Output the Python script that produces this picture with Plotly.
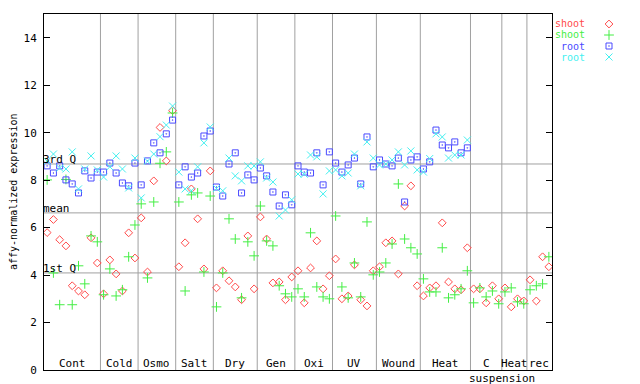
import plotly.graph_objects as go

# ---- data -------------------------------------------------------------
groups = ["Cont", "Cold", "Osmo", "Salt", "Dry", "Gen", "Oxi", "UV",
          "Wound", "Heat", "C", "Heat", "rec"]
group_sizes = [9, 6, 6, 6, 7, 6, 6, 7, 7, 8, 5, 4, 4]
sub_label = "suspension"

series_names = ["shoot", "shoot", "root", "root"]

shoot_a = [5.79, 6.34, 5.49, 5.23, 3.55, 3.33, 3.17, 5.57, 4.51,
           3.21, 4.64, 4.05, 3.33, 5.78, 4.72,
           6.41, 4.13, 7.97, 10.22, 8.81, 10.93,
           4.35, 5.36, 7.63, 6.37, 4.26, 8.39,
           3.46, 4.18, 3.76, 3.50, 2.96, 5.65, 3.42,
           6.45, 5.52, 3.67, 3.71, 2.96, 3.92,
           4.18, 2.83, 4.30, 5.44, 3.42, 3.97,
           4.68, 3.00, 3.12, 4.43, 2.96, 2.70, 4.18,
           4.35, 5.36, 5.44, 4.05, 6.91, 7.76, 3.55,
           3.12, 3.46, 3.55, 6.20, 3.71, 3.42, 3.38, 5.15,
           3.42, 3.42, 2.83, 3.55, 3.00,
           3.46, 2.66, 3.00, 2.91,
           3.80, 2.91, 4.77, 4.35]

shoot_b = [8.01, 4.09, 2.75, 8.03, 2.75, 4.39, 3.63, 5.65, 5.40,
           3.17, 4.26, 3.12, 3.38, 4.77, 6.11,
           7.00, 3.88, 7.08, 8.71, 9.19, 10.83,
           7.08, 3.33, 7.38, 7.46, 4.13, 7.33,
           2.66, 4.09, 6.37, 5.52, 3.04, 5.40, 4.81,
           6.91, 5.44, 5.23, 3.55, 3.21, 3.08,
           3.42, 3.08, 5.78, 3.50, 3.08, 3.00,
           6.49, 3.50, 3.04, 4.51, 3.08, 6.24, 4.01,
           4.13, 4.51, 5.31, 7.84, 5.52, 5.15, 4.89,
           3.84, 3.29, 3.29, 5.15, 3.04, 3.17, 3.42, 4.18,
           2.83, 3.46, 3.08, 3.33, 2.79,
           3.29, 3.46, 2.87, 2.79,
           3.38, 3.55, 3.63, 4.77]

root_a = [8.60, 8.30, 8.60, 8.01, 7.84, 7.46, 8.39, 8.09, 8.34,
          8.34, 8.72, 8.30, 7.88, 7.76, 8.72,
          7.80, 8.81, 9.57, 9.15, 9.95, 10.53,
          7.80, 8.56, 8.13, 8.30, 9.86, 10.07,
          7.71, 7.33, 8.68, 9.15, 7.46, 8.22, 8.01,
          8.51, 8.18, 7.50, 6.91, 7.38, 6.96,
          8.60, 8.34, 8.30, 9.15, 7.80, 9.19,
          8.72, 8.34, 8.64, 8.93, 7.84, 9.82, 8.56,
          8.85, 8.68, 8.60, 8.93, 7.08, 8.85, 8.98,
          8.47, 8.77, 10.11, 9.48, 9.36, 9.61, 9.15, 9.36]

root_b = [8.80, 9.10, 8.51, 8.47, 9.19, 7.63, 8.47, 9.02, 8.43,
          8.13, 8.56, 9.02, 8.47, 7.67, 8.93,
          7.25, 8.80, 9.10, 9.83, 10.32, 11.12,
          8.34, 7.63, 7.55, 8.56, 9.57, 10.24,
          7.65, 7.55, 8.93, 8.18, 7.97, 8.60, 8.60,
          8.77, 8.09, 7.92, 6.49, 6.74, 7.17,
          8.26, 8.25, 9.06, 8.98, 7.42, 8.39,
          8.43, 8.18, 8.30, 9.10, 7.76, 9.61, 8.93,
          8.64, 8.68, 8.85, 9.19, 8.64, 9.23, 8.43,
          8.34, 8.91, 9.95, 9.82, 8.93, 9.06, 9.06, 9.69]

ref_lines = [("3rd Q", 8.68), ("mean", 6.62), ("1st Q", 4.09)]
y_ticks = [0, 2, 4, 6, 8, 10, 12, 14]

# ---- styling -----------------------------------------------------------
FONT = "DejaVu Sans Mono"
colors = ["#ff4a4a", "#44ee44", "#4a4aff", "#44f0f0"]
symbols = ["diamond-open", "cross-thin", "square-open-dot", "x-thin"]
sizes = [6, 7, 6, 7]

# page body has an 8px margin: figure sized to fit the 640x384 window
OFF = 8
W, H = 640 - OFF, 384 - OFF
L, R, T, B = 36, 2, 6, 14
plot_w_px = 508
paper_w = W - L - R
plot_h = H - T - B
x_dom_end = plot_w_px / paper_w

n = sum(group_sizes)
fig = go.Figure()

all_series = [shoot_a, shoot_b, root_a, root_b]
for vals, name, col, sym, sz in zip(all_series, series_names, colors, symbols, sizes):
    xs = list(range(1, len(vals) + 1))
    fig.add_trace(go.Scatter(
        x=xs, y=vals, mode="markers", name=name, showlegend=False,
        marker=dict(symbol=sym, size=sz, color=col,
                    line=dict(color=col, width=1)),
        xaxis="x", yaxis="y"))

shapes = []
annotations = []
pos = 0
for g, s in zip(groups, group_sizes):
    center = pos + (s + 1) / 2
    annotations.append(dict(x=center, y=0, xref="x", yref="y", text=g,
                            showarrow=False, yanchor="bottom", xanchor="center",
                            yshift=-1, borderpad=0,
                            font=dict(family=FONT, size=11, color="black")))
    pos += s
    if pos < n:
        shapes.append(dict(type="line", xref="x", yref="paper", x0=pos + 0.5, x1=pos + 0.5,
                           y0=0, y1=1, line=dict(color="#a0a0a0", width=1), layer="below"))

cs_start = sum(group_sizes[:10])
annotations.append(dict(x=cs_start + group_sizes[10] + 0.5, y=0, xref="x", yref="y",
                        text=sub_label, showarrow=False, yanchor="top", xanchor="center",
                        yshift=-1, borderpad=0,
                        font=dict(family=FONT, size=11, color="black")))

for lab, v in ref_lines:
    shapes.append(dict(type="line", xref="paper", yref="y", x0=0, x1=x_dom_end,
                       y0=v, y1=v, line=dict(color="#a0a0a0", width=1), layer="below"))
    annotations.append(dict(x=0, y=v, xref="paper", yref="y", text=lab, showarrow=False,
                            xanchor="left", yanchor="bottom", xshift=-2, yshift=-3,
                            borderpad=0,
                            font=dict(family=FONT, size=11, color="black")))

annotations.append(dict(x=(13 - OFF - L) / paper_w, y=0.5, xref="paper", yref="paper",
                        text="affy-normalized expression", textangle=-90, showarrow=False,
                        xanchor="center", yanchor="middle", borderpad=0,
                        font=dict(family=FONT, size=10, color="black")))

# legend (text then marker, gnuplot style); positions in window pixels
leg_rows_px = [24, 35, 46, 57]
for name, col, sym, sz, ypx in zip(series_names, colors, symbols, sizes, leg_rows_px):
    annotations.append(dict(x=(586 - OFF - L) / paper_w, y=1 - (ypx - OFF - T) / plot_h,
                            xref="paper", yref="paper", text=name, showarrow=False,
                            xanchor="right", yanchor="middle", height=11, borderpad=0,
                            font=dict(family=FONT, size=10, color=col)))
    fig.add_trace(go.Scatter(x=[609 - OFF], y=[ypx - OFF], mode="markers", showlegend=False,
                             marker=dict(symbol=sym, size=sz, color=col,
                                         line=dict(color=col, width=1)),
                             xaxis="x2", yaxis="y2", hoverinfo="skip"))

x2_start = 560 - OFF
fig.update_layout(
    width=W, height=H,
    margin=dict(l=L, r=R, t=T, b=B, autoexpand=False),
    paper_bgcolor="white", plot_bgcolor="white",
    showlegend=False,
    font=dict(family=FONT, size=11, color="black"),
    xaxis=dict(domain=[0, x_dom_end], range=[0.5, n + 0.5], showgrid=False,
               zeroline=False, showticklabels=False, ticks="",
               showline=True, linecolor="black", linewidth=1, mirror=True),
    yaxis=dict(range=[0, 15], tickvals=y_ticks, showgrid=False, zeroline=False,
               ticks="inside", ticklen=6, tickcolor="black", mirror="allticks",
               showline=True, linecolor="black", linewidth=1, automargin=False,
               tickfont=dict(family=FONT, size=11, color="black"),
               ticklabelstandoff=4),
    xaxis2=dict(domain=[(x2_start - L) / paper_w, 1], range=[x2_start, W - R],
                visible=False, anchor="y2"),
    yaxis2=dict(domain=[0, 1], range=[H - B, T], visible=False, anchor="x2"),
    shapes=shapes, annotations=annotations,
)

fig.write_html("out.html")
